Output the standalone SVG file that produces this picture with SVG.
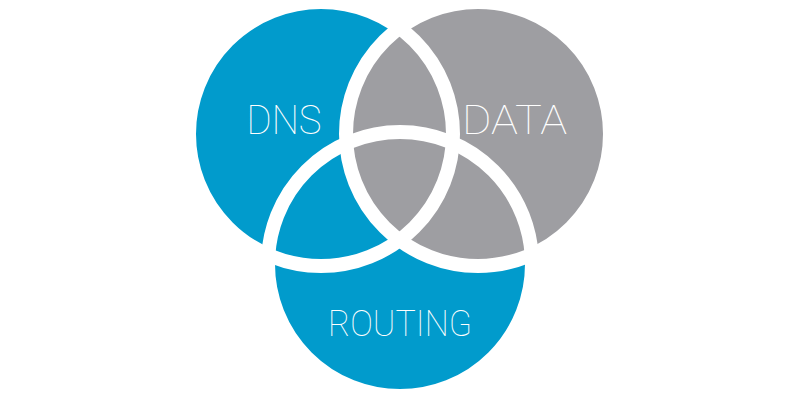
<svg xmlns="http://www.w3.org/2000/svg" width="800" height="400" viewBox="0 0 800 400">
  <defs>
    <clipPath id="clipRouting">
      <circle cx="400" cy="264" r="132"/>
    </clipPath>
    <style>
      .blue { fill: #019BCC; }
      .gray { fill: #9E9EA2; }
      .ring { fill: none; stroke: #FFFFFF; stroke-width: 14; }
      .label { fill: #FFFFFF; font-family: Roboto, "Liberation Sans", sans-serif; font-weight: 100; text-anchor: middle; }
    </style>
  </defs>
  <rect width="800" height="400" fill="#FFFFFF"/>
  <g id="dns">
    <circle class="blue" cx="321" cy="134" r="132"/>
  </g>
  <g id="data">
    <circle class="gray" cx="478" cy="134" r="132"/>
  </g>
  <g id="routing">
    <circle class="blue" cx="400" cy="264" r="132"/>
  </g>
  <g id="data-routing-overlap">
    <circle class="gray" cx="478" cy="134" r="132" clip-path="url(#clipRouting)"/>
  </g>
  <g id="rings">
    <circle class="ring" cx="321" cy="134" r="132"/>
    <circle class="ring" cx="478" cy="134" r="132"/>
    <circle class="ring" cx="400" cy="264" r="132"/>
  </g>
  <g id="labels">
    <text class="label" x="284" y="134" font-size="40" textLength="75" lengthAdjust="spacingAndGlyphs">DNS</text>
    <text class="label" x="514.5" y="134" font-size="40" textLength="105" lengthAdjust="spacingAndGlyphs">DATA</text>
    <text class="label" x="400" y="335.5" font-size="36" textLength="144" lengthAdjust="spacingAndGlyphs">ROUTING</text>
  </g>
</svg>
